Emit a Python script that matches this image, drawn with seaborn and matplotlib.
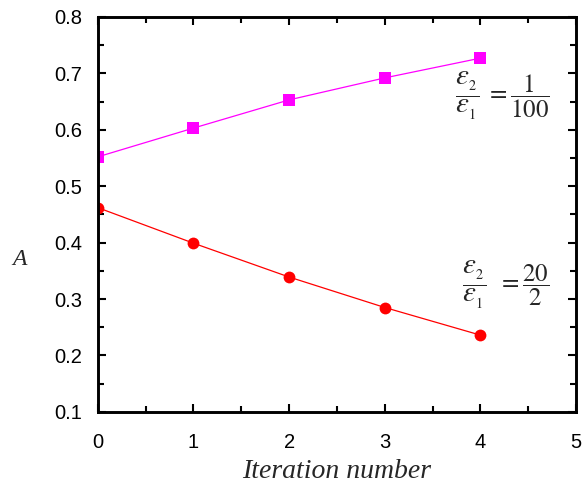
import numpy as np
import pandas as pd
import matplotlib
matplotlib.use("Agg")
import matplotlib.pyplot as plt
from matplotlib.ticker import MultipleLocator
import seaborn as sns

# data
iterations = [0, 1, 2, 3, 4]
a_ratio_1_100 = [0.552, 0.603, 0.653, 0.692, 0.727]
a_ratio_20_2 = [0.462, 0.399, 0.339, 0.285, 0.236]

sns.set_theme(style="ticks")
plt.rcParams['font.family'] = ['Liberation Sans', 'DejaVu Sans']
plt.rcParams['mathtext.fontset'] = 'stix'

df = pd.DataFrame({
    'iteration': iterations * 2,
    'A': a_ratio_1_100 + a_ratio_20_2,
    'case': ['1/100'] * 5 + ['20/2'] * 5,
})

fig = plt.figure(figsize=(5.82, 4.84), dpi=100)
ax = fig.add_axes([0.168, 0.149, 0.822, 0.816])

sns.lineplot(data=df[df['case'] == '1/100'], x='iteration', y='A', ax=ax,
             color='#ff00ff', marker='s', markersize=8, markeredgewidth=0,
             linewidth=0.9)
sns.lineplot(data=df[df['case'] == '20/2'], x='iteration', y='A', ax=ax,
             color='#ff0000', marker='o', markersize=8.5, markeredgewidth=0,
             linewidth=0.9)

ax.set_xlim(0, 5)
ax.set_ylim(0.1, 0.8)
ax.xaxis.set_major_locator(MultipleLocator(1))
ax.xaxis.set_minor_locator(MultipleLocator(0.5))
ax.yaxis.set_major_locator(MultipleLocator(0.1))
ax.yaxis.set_minor_locator(MultipleLocator(0.05))
ax.yaxis.set_major_formatter(plt.FormatStrFormatter('%.1f'))

for s in ax.spines.values():
    s.set_linewidth(2.1)
    s.set_color('black')
ax.tick_params(which='both', direction='in', top=True, right=True,
               colors='black', labelsize=14.5)
ax.tick_params(which='major', length=6, width=1.5)
ax.tick_params(which='minor', length=4.3, width=1.5)
ax.tick_params(axis='x', which='major', pad=15)
ax.tick_params(axis='y', which='major', pad=11)

ax.set_xlabel('Iteration number', family=['Liberation Serif'], style='italic',
              fontsize=20, labelpad=5)
ax.set_ylabel('A', family=['Liberation Serif'], style='italic', fontsize=17,
              rotation=0, va='center', ha='center')
ax.yaxis.set_label_coords(-0.163, 0.387)

# ratio labels: epsilon fraction drawn a bit larger, like the reference
eps = r'$\dfrac{\varepsilon_{_2}}{\varepsilon_{_1}}$'
ax.text(3.99, 0.650, eps, fontsize=21, ha='right', va='baseline')
ax.text(4.72, 0.650, r'$=\dfrac{1}{100}$', fontsize=18, ha='right', va='baseline')
ax.text(4.06, 0.314, eps, fontsize=21, ha='right', va='baseline')
ax.text(4.72, 0.314, r'$=\dfrac{20}{2}$', fontsize=18, ha='right', va='baseline')

fig.savefig('out.png', dpi=100)
